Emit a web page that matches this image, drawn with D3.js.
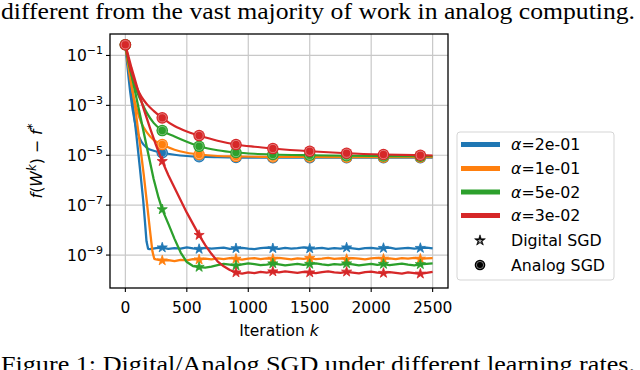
<!DOCTYPE html>
<html>
<head>
<meta charset="utf-8">
<script src="https://cdn.jsdelivr.net/npm/d3@7"></script>
<style>
  body { margin: 0; background: #fff; }
  svg { display: block; }
  text { font-family: "DejaVu Sans", sans-serif; fill: #000; }
  .serif { font-family: "Liberation Serif", "Times New Roman", serif; }
</style>
</head>
<body>
<svg width="640" height="370"></svg>
<script>
// learning rates and their colours (matplotlib tab10)
var alphaLabels = ["2e-01", "1e-01", "5e-02", "3e-02"];
var colors = ["#1f77b4", "#ff7f0e", "#2ca02c", "#d62728"];
var xTicks = [0, 500, 1000, 1500, 2000, 2500];
var yTickExp = [-1, -3, -5, -7, -9];
var markerIter = [0, 300, 600, 900, 1200, 1500, 1800, 2100, 2400];

// values are log10(f(W^k) - f*)

// analog SGD: smooth curves
var analogIter = [0, 20, 40, 60, 90, 130, 175, 230, 300, 400, 500, 600, 750, 900, 1050, 1200, 1500, 1800, 2100, 2400, 2500];
var analogBlue   = [-0.57, -1.6, -2.5, -3.2, -3.95, -4.45, -4.7, -4.82, -4.9, -4.98, -5.03, -5.06, -5.08, -5.09, -5.1, -5.1, -5.1, -5.1, -5.1, -5.1, -5.1];
var analogOrange = [-0.57, -1.3, -1.95, -2.5, -3.1, -3.7, -4.08, -4.38, -4.57, -4.78, -4.9, -4.97, -5.03, -5.05, -5.06, -5.07, -5.07, -5.08, -5.08, -5.08, -5.08];
var analogGreen  = [-0.57, -1.15, -1.6, -1.95, -2.4, -2.85, -3.3, -3.7, -4.01, -4.25, -4.46, -4.64, -4.8, -4.89, -4.94, -4.97, -5.0, -5.02, -5.03, -5.04, -5.04];
var analogRed    = [-0.57, -1.05, -1.5, -1.8, -2.25, -2.65, -2.95, -3.22, -3.5, -3.83, -4.05, -4.21, -4.42, -4.57, -4.66, -4.73, -4.84, -4.92, -4.97, -5.0, -5.01];

// digital SGD: fast drop, then noisy floor (floor sampled every 50 iterations)
var digBlueIter = [0, 30, 60, 90, 120, 145, 160, 172, 185];
var digBlueDrop = [-0.57, -1.7, -2.9, -4.2, -5.6, -6.8, -7.7, -8.45, -8.75];
var digBlueFloorStart = 200;
var digBlueFloor = [-8.76, -8.72, -8.70, -8.75, -8.72, -8.74, -8.69, -8.73, -8.76, -8.71,
  -8.74, -8.72, -8.70, -8.75, -8.73, -8.71, -8.74, -8.76, -8.72, -8.70,
  -8.73, -8.75, -8.71, -8.74, -8.72, -8.69, -8.74, -8.73, -8.71, -8.75,
  -8.72, -8.74, -8.70, -8.73, -8.76, -8.72, -8.71, -8.74, -8.72, -8.70,
  -8.75, -8.73, -8.71, -8.74, -8.72, -8.70, -8.73];

var digOrangeIter = [0, 40, 80, 120, 150, 173, 200, 220, 235];
var digOrangeDrop = [-0.57, -1.8, -3.1, -4.6, -5.8, -6.8, -8.0, -8.85, -9.15];
var digOrangeFloorStart = 250;
var digOrangeFloor = [-9.17, -9.22, -9.20, -9.24, -9.19, -9.21, -9.16, -9.18, -9.14, -9.17,
  -9.13, -9.16, -9.12, -9.15, -9.18, -9.14, -9.12, -9.16, -9.13, -9.15,
  -9.11, -9.14, -9.17, -9.13, -9.15, -9.12, -9.16, -9.14, -9.11, -9.15,
  -9.13, -9.16, -9.12, -9.14, -9.17, -9.13, -9.11, -9.15, -9.13, -9.16,
  -9.12, -9.14, -9.11, -9.15, -9.13, -9.12];

var digGreenIter = [0, 60, 120, 180, 230, 270];
var digGreenDrop = [-0.57, -2.0, -3.4, -4.8, -5.95, -6.7];
var digGreenFloorStart = 300;
var digGreenFloor = [-7.17, -7.75, -8.35, -8.9, -9.28, -9.44, -9.48, -9.50, -9.46, -9.40,
  -9.35, -9.38, -9.42, -9.37, -9.33, -9.36, -9.40, -9.38, -9.34, -9.37,
  -9.41, -9.38, -9.35, -9.39, -9.36, -9.33, -9.37, -9.40, -9.36, -9.38,
  -9.34, -9.37, -9.41, -9.38, -9.35, -9.39, -9.36, -9.40, -9.37, -9.34,
  -9.38, -9.41, -9.37, -9.35, -9.33];

var digRedIter = [0, 50, 100, 150, 200, 250];
var digRedDrop = [-0.57, -1.5, -2.35, -3.15, -3.9, -4.6];
var digRedFloorStart = 300;
var digRedFloor = [-5.24, -5.8, -6.3, -6.8, -7.3, -7.75, -8.2, -8.6, -8.95, -9.25,
  -9.45, -9.6, -9.7, -9.74, -9.69, -9.72, -9.67, -9.70, -9.66, -9.69,
  -9.65, -9.68, -9.71, -9.67, -9.70, -9.72, -9.68, -9.65, -9.69, -9.71,
  -9.67, -9.70, -9.73, -9.68, -9.66, -9.70, -9.72, -9.68, -9.71, -9.74,
  -9.69, -9.72, -9.75, -9.71, -9.67];

// 组装成点列
function pairs(iters, vals) {
    return iters.map(function (k, i) { return { k: k, v: Math.pow(10, vals[i]) }; });
}
function digital(iters, drop, start, floor) {
    var pts = pairs(iters, drop);
    floor.forEach(function (v, i) { pts.push({ k: start + 50 * i, v: Math.pow(10, v) }); });
    return pts;
}

var series = [
    { dig: digital(digBlueIter, digBlueDrop, digBlueFloorStart, digBlueFloor), ana: pairs(analogIter, analogBlue) },
    { dig: digital(digOrangeIter, digOrangeDrop, digOrangeFloorStart, digOrangeFloor), ana: pairs(analogIter, analogOrange) },
    { dig: digital(digGreenIter, digGreenDrop, digGreenFloorStart, digGreenFloor), ana: pairs(analogIter, analogGreen) },
    { dig: digital(digRedIter, digRedDrop, digRedFloorStart, digRedFloor), ana: pairs(analogIter, analogRed) }
];

var svg = d3.select("svg");
var pL = 110, pR = 448, pT = 34, pB = 288;   // 绘图区边界

var x = d3.scaleLinear().domain([-125, 2625]).range([pL, pR]);
var y = d3.scaleLog().domain([Math.pow(10, -10.32), Math.pow(10, -0.14)]).range([pB, pT]);

svg.append("rect").attr("width", 640).attr("height", 370).attr("fill", "#fff");

// 正文片段
svg.append("text").attr("class", "serif")
    .attr("x", 1).attr("y", 19)
    .attr("font-size", 22.5)
    .attr("textLength", 634).attr("lengthAdjust", "spacingAndGlyphs")
    .text("different from the vast majority of work in analog computing.");
svg.append("text").attr("class", "serif")
    .attr("x", 1).attr("y", 372)
    .attr("font-size", 22.5)
    .attr("textLength", 634).attr("lengthAdjust", "spacingAndGlyphs")
    .text("Figure 1: Digital/Analog SGD under different learning rates.");

// 网格
var grid = svg.append("g");
grid.selectAll("line.gx").data(xTicks).enter().append("line")
    .attr("x1", function (d) { return x(d); }).attr("x2", function (d) { return x(d); })
    .attr("y1", pT).attr("y2", pB)
    .attr("stroke", "#c8c8c8").attr("stroke-width", 1.2);
grid.selectAll("line.gy").data(yTickExp).enter().append("line")
    .attr("x1", pL).attr("x2", pR)
    .attr("y1", function (d) { return y(Math.pow(10, d)); }).attr("y2", function (d) { return y(Math.pow(10, d)); })
    .attr("stroke", "#c8c8c8").attr("stroke-width", 1.2);

svg.append("clipPath").attr("id", "plotclip").append("rect")
    .attr("x", pL).attr("y", pT).attr("width", pR - pL).attr("height", pB - pT);

var lineDig = d3.line().x(function (d) { return x(d.k); }).y(function (d) { return y(d.v); });
var lineAna = d3.line().x(function (d) { return x(d.k); }).y(function (d) { return y(d.v); }).curve(d3.curveMonotoneX);
var star = d3.symbol().type(d3.symbolStar).size(32);

var plot = svg.append("g").attr("clip-path", "url(#plotclip)");
series.forEach(function (s, i) {
    var c = colors[i];
    plot.append("path").datum(s.dig).attr("d", lineDig)
        .attr("fill", "none").attr("stroke", c).attr("stroke-width", 2.3).attr("stroke-linejoin", "round");
    plot.append("path").datum(s.ana).attr("d", lineAna)
        .attr("fill", "none").attr("stroke", c).attr("stroke-width", 2.2);

    var dm = s.dig.filter(function (d) { return markerIter.indexOf(d.k) >= 0; });
    plot.selectAll("path.star" + i).data(dm).enter().append("path")
        .attr("transform", function (d) { return "translate(" + x(d.k) + "," + y(d.v) + ")"; })
        .attr("d", star)
        .attr("fill", c).attr("stroke", c).attr("stroke-width", 0.8);

    var am = s.ana.filter(function (d) { return markerIter.indexOf(d.k) >= 0; });
    var g = plot.selectAll("g.circ" + i).data(am).enter().append("g")
        .attr("transform", function (d) { return "translate(" + x(d.k) + "," + y(d.v) + ")"; });
    g.append("circle").attr("r", 5.8).attr("fill", c);
    g.append("circle").attr("r", 4.1).attr("fill", "none")
        .attr("stroke", "#fff").attr("stroke-opacity", 0.4).attr("stroke-width", 0.9);
});

// 坐标框
svg.append("rect").attr("x", pL).attr("y", pT).attr("width", pR - pL).attr("height", pB - pT)
    .attr("fill", "none").attr("stroke", "#000").attr("stroke-width", 1.3);

// x 轴刻度
var xa = svg.append("g");
xa.selectAll("line").data(xTicks).enter().append("line")
    .attr("x1", function (d) { return x(d); }).attr("x2", function (d) { return x(d); })
    .attr("y1", pB).attr("y2", pB + 4).attr("stroke", "#000").attr("stroke-width", 1.1);
xa.selectAll("text").data(xTicks).enter().append("text")
    .attr("x", function (d) { return x(d); }).attr("y", 313)
    .attr("text-anchor", "middle").attr("font-size", 15.5)
    .text(function (d) { return d; });

// y 轴刻度
var ya = svg.append("g");
ya.selectAll("line").data(yTickExp).enter().append("line")
    .attr("x1", pL - 4).attr("x2", pL)
    .attr("y1", function (d) { return y(Math.pow(10, d)); }).attr("y2", function (d) { return y(Math.pow(10, d)); })
    .attr("stroke", "#000").attr("stroke-width", 1.1);
var yt = ya.selectAll("text").data(yTickExp).enter().append("text")
    .attr("x", 103).attr("y", function (d) { return y(Math.pow(10, d)) + 6; })
    .attr("text-anchor", "end").attr("font-size", 15.5);
yt.append("tspan").text("10");
yt.append("tspan").attr("dy", -7).attr("font-size", 11).text(function (d) { return "\u2212" + (-d); });

// 轴标题
svg.append("text").attr("x", (pL + pR) / 2).attr("y", 336)
    .attr("text-anchor", "middle").attr("font-size", 15.5)
    .html('Iteration <tspan font-style="italic">k</tspan>');

var yl = svg.append("text").attr("transform", "translate(42,161) rotate(-90)")
    .attr("text-anchor", "middle").attr("font-size", 15.8);
yl.append("tspan").attr("font-style", "italic").text("f");
yl.append("tspan").text("(");
yl.append("tspan").attr("font-style", "italic").text("W");
yl.append("tspan").attr("font-style", "italic").attr("font-size", 11.5).attr("dy", -6).text("k");
yl.append("tspan").attr("dy", 6).text(") \u2212 ");
yl.append("tspan").attr("font-style", "italic").text("f");
yl.append("tspan").attr("font-size", 11.5).attr("dy", -6).text("*");

// 图例
var lg = svg.append("g");
lg.append("rect").attr("x", 457).attr("y", 132).attr("width", 157).attr("height", 148)
    .attr("rx", 3).attr("fill", "#fff").attr("fill-opacity", 0.8)
    .attr("stroke", "#d5d5d5").attr("stroke-width", 1);
var legY = [144.5, 168.5, 192, 215.5, 240.5, 265];
alphaLabels.forEach(function (a, i) {
    lg.append("line").attr("x1", 461).attr("x2", 500).attr("y1", legY[i]).attr("y2", legY[i])
        .attr("stroke", colors[i]).attr("stroke-width", 5);
    var t = lg.append("text").attr("x", 511).attr("y", legY[i] + 5.5).attr("font-size", 15.8);
    t.append("tspan").attr("font-style", "italic").text("\u03b1");
    t.append("tspan").text("=" + a);
});
lg.append("path").attr("transform", "translate(480," + legY[4] + ")")
    .attr("d", d3.symbol().type(d3.symbolStar).size(36)).attr("fill", "#000")
    .attr("stroke", "#000").attr("stroke-width", 0.6);
lg.append("path").attr("transform", "translate(480," + (legY[4] + 0.6) + ")")
    .attr("d", d3.symbol().type(d3.symbolStar).size(8)).attr("fill", "#fff").attr("fill-opacity", 0.7);
lg.append("text").attr("x", 511).attr("y", legY[4] + 5.5).attr("font-size", 15.8).text("Digital SGD");
lg.append("circle").attr("cx", 480).attr("cy", legY[5]).attr("r", 5.3).attr("fill", "#000");
lg.append("circle").attr("cx", 480).attr("cy", legY[5]).attr("r", 3.6).attr("fill", "none")
    .attr("stroke", "#fff").attr("stroke-opacity", 0.5).attr("stroke-width", 0.9);
lg.append("text").attr("x", 511).attr("y", legY[5] + 5.5).attr("font-size", 15.8).text("Analog SGD");
</script>
</body>
</html>
